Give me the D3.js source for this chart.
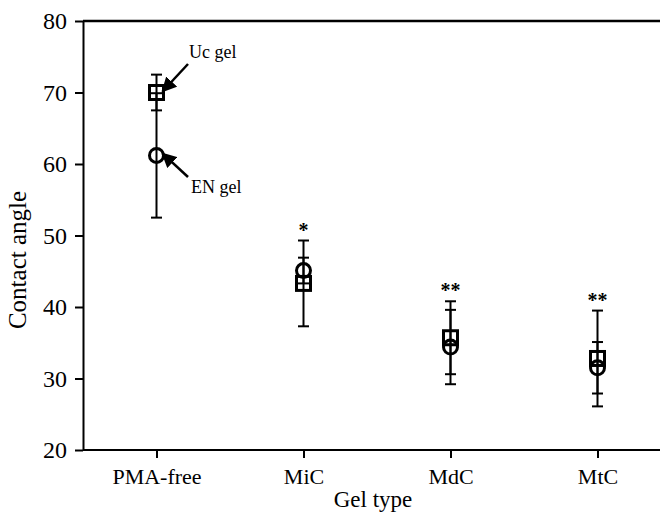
<!DOCTYPE html>
<html>
<head>
<meta charset="utf-8">
<script src="https://cdn.jsdelivr.net/npm/d3@7"></script>
<style>
  body { margin: 0; background: #fff; }
  text { font-family: "Liberation Serif", "Times New Roman", serif; fill: #000; }
</style>
</head>
<body>
<div class="chart"></div>
<script>
// values
const categories = ["PMA-free", "MiC", "MdC", "MtC"];
const ucMean = [70.0, 43.3, 35.7, 32.8];   // Uc gel (squares)
const ucErr  = [2.5, 6.0, 5.1, 6.7];
const enMean = [61.2, 45.1, 34.4, 31.5];   // EN gel (circles)
const enErr  = [8.7, 1.8, 5.2, 3.6];
const signif = ["", "*", "**", "**"];
const yTicks = [20, 30, 40, 50, 60, 70, 80];

const W = 660, H = 515;
const mLeft = 83, mTop = 21, mBottom = 450;

const svg = d3.select(".chart").append("svg")
  .attr("width", W).attr("height", H);

const x = d3.scalePoint().domain(categories).range([mLeft, 671]).padding(0.5);
const y = d3.scaleLinear().domain([20, 80]).range([mBottom, mTop]);

// y axis
const yAxis = svg.append("g")
  .attr("transform", `translate(${mLeft},0)`)
  .call(d3.axisLeft(y).tickValues(yTicks).tickSize(8).tickSizeOuter(0).tickPadding(8));
yAxis.selectAll("text").style("font-size", "24px");

// x axis
const xAxis = svg.append("g")
  .attr("transform", `translate(0,${mBottom})`)
  .call(d3.axisBottom(x).tickSize(8).tickSizeOuter(0).tickPadding(10));
xAxis.selectAll("text").style("font-size", "22px");
svg.selectAll(".domain, .tick line").attr("stroke", "#000").attr("stroke-width", 2);
// x domain line spans full width
xAxis.select(".domain").attr("d", `M${mLeft},0H${W}`);

// top frame line
svg.append("line")
  .attr("x1", mLeft).attr("x2", W).attr("y1", mTop).attr("y2", mTop)
  .attr("stroke", "#000").attr("stroke-width", 2.5);

// axis titles
svg.append("text")
  .attr("x", 373).attr("y", 507)
  .attr("text-anchor", "middle").style("font-size", "23px")
  .text("Gel type");
svg.append("text")
  .attr("transform", "translate(26,260) rotate(-90)")
  .attr("text-anchor", "middle").style("font-size", "25px")
  .text("Contact angle");

// error bars
function errorBars(mean, err) {
  const g = svg.append("g").attr("stroke", "#000").attr("stroke-width", 2);
  categories.forEach((c, i) => {
    const cx = x(c);
    const hi = y(mean[i] + err[i]), lo = y(mean[i] - err[i]);
    g.append("line").attr("x1", cx).attr("x2", cx).attr("y1", hi).attr("y2", lo);
    g.append("line").attr("x1", cx - 5.5).attr("x2", cx + 5.5).attr("y1", hi).attr("y2", hi);
    g.append("line").attr("x1", cx - 5.5).attr("x2", cx + 5.5).attr("y1", lo).attr("y2", lo);
  });
}
errorBars(enMean, enErr);
errorBars(ucMean, ucErr);

// markers
svg.append("g").selectAll("rect")
  .data(categories)
  .join("rect")
  .attr("x", d => x(d) - 7)
  .attr("y", (d, i) => y(ucMean[i]) - 7)
  .attr("width", 14).attr("height", 14)
  .attr("fill", "none").attr("stroke", "#000").attr("stroke-width", 3);

svg.append("g").selectAll("circle")
  .data(categories)
  .join("circle")
  .attr("cx", d => x(d))
  .attr("cy", (d, i) => y(enMean[i]))
  .attr("r", 7)
  .attr("fill", "none").attr("stroke", "#000").attr("stroke-width", 3);

// significance stars
svg.append("g").selectAll("text")
  .data(categories)
  .join("text")
  .attr("x", d => x(d))
  .attr("y", (d, i) => y(Math.max(ucMean[i] + ucErr[i], enMean[i] + enErr[i])) - 4)
  .attr("text-anchor", "middle")
  .style("font-size", "20px")
  .style("font-weight", "bold")
  .text((d, i) => signif[i]);

// arrow annotations
svg.append("defs").append("marker")
  .attr("id", "arrow").attr("viewBox", "0 0 10 10")
  .attr("refX", 9).attr("refY", 5)
  .attr("markerWidth", 6).attr("markerHeight", 6)
  .attr("orient", "auto")
  .append("path").attr("d", "M0,0L10,5L0,10z").attr("fill", "#000");

const px = x(categories[0]);
svg.append("line")
  .attr("x1", 188).attr("y1", 64)
  .attr("x2", px + 6).attr("y2", y(ucMean[0]) - 1)
  .attr("stroke", "#000").attr("stroke-width", 2.5).attr("marker-end", "url(#arrow)");
svg.append("text").attr("x", 189).attr("y", 58).style("font-size", "18px").text("Uc gel");

svg.append("line")
  .attr("x1", 188).attr("y1", 177)
  .attr("x2", px + 6).attr("y2", y(enMean[0]) - 2)
  .attr("stroke", "#000").attr("stroke-width", 2.5).attr("marker-end", "url(#arrow)");
svg.append("text").attr("x", 191).attr("y", 193).style("font-size", "18px").text("EN gel");
</script>
</body>
</html>
